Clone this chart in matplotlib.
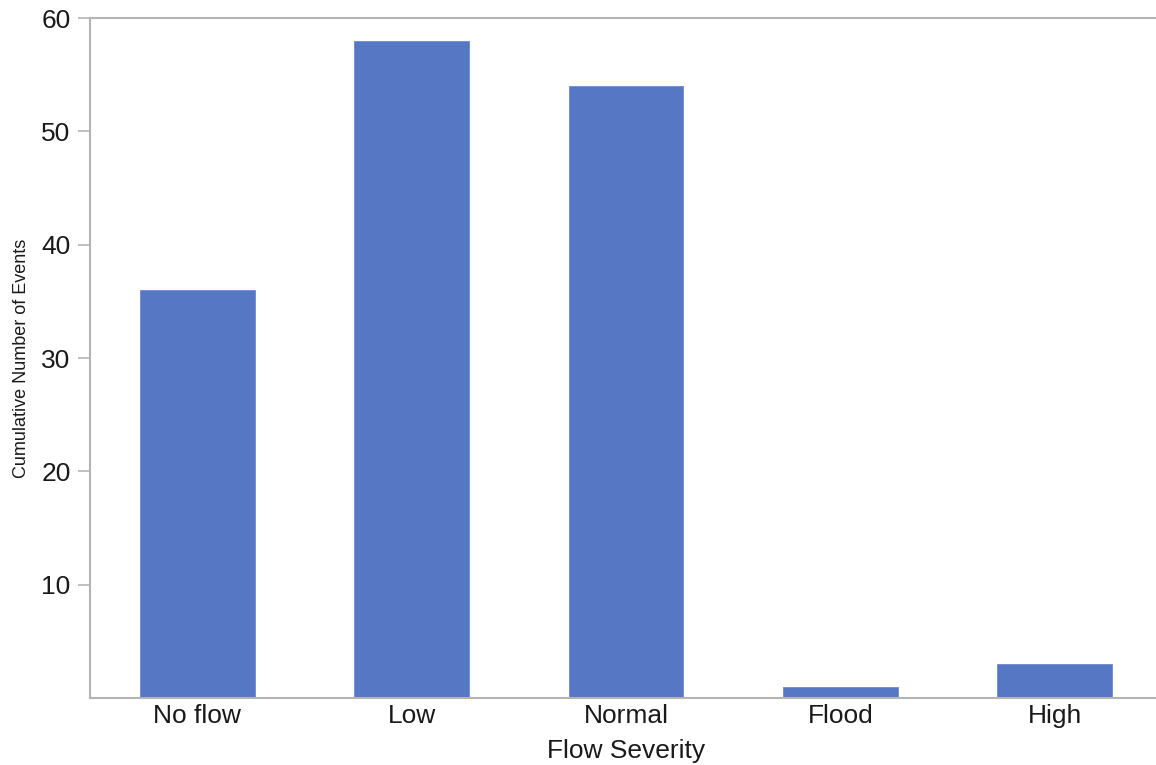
import matplotlib
matplotlib.use("Agg")
import matplotlib.pyplot as plt

categories = ["No flow", "Low", "Normal", "Flood", "High"]
events = [36, 58, 54, 1, 3]

BAR = "#5677C3"
AXIS = "#b4b4b4"
TEXT = "#1a1a1a"

plt.rcParams.update({
    "font.family": ["Liberation Sans", "DejaVu Sans"],
    "text.color": TEXT,
})

fig = plt.figure(figsize=(11.56, 7.65), dpi=100)
ax = fig.add_axes([90 / 1156, 1 - 698 / 765, 1072 / 1156, 680 / 765])

x = range(len(categories))
ax.bar(x, events, width=0.536, color=BAR, edgecolor="#6f8ad0", linewidth=0.6)

ax.set_xlim(-0.5, len(categories) - 0.5)
ax.set_ylim(0, 60)
ax.set_yticks([10, 20, 30, 40, 50, 60])
ax.set_xticks(list(x))
ax.set_xticklabels(categories)

for side in ["left", "bottom", "top"]:
    ax.spines[side].set_color(AXIS)
    ax.spines[side].set_linewidth(1.5)
ax.spines["right"].set_visible(False)

ax.tick_params(axis="y", length=9, width=1.2, color=AXIS, labelsize=19,
               labelcolor=TEXT, pad=5)
ax.tick_params(axis="x", length=0, labelsize=19, labelcolor=TEXT, pad=4)

ax.set_xlabel("Flow Severity", fontsize=19, color=TEXT, labelpad=8)
ax.set_ylabel("Cumulative Number of Events", fontsize=13, color=TEXT, labelpad=8)

fig.savefig("out.png", dpi=100, facecolor="white")
